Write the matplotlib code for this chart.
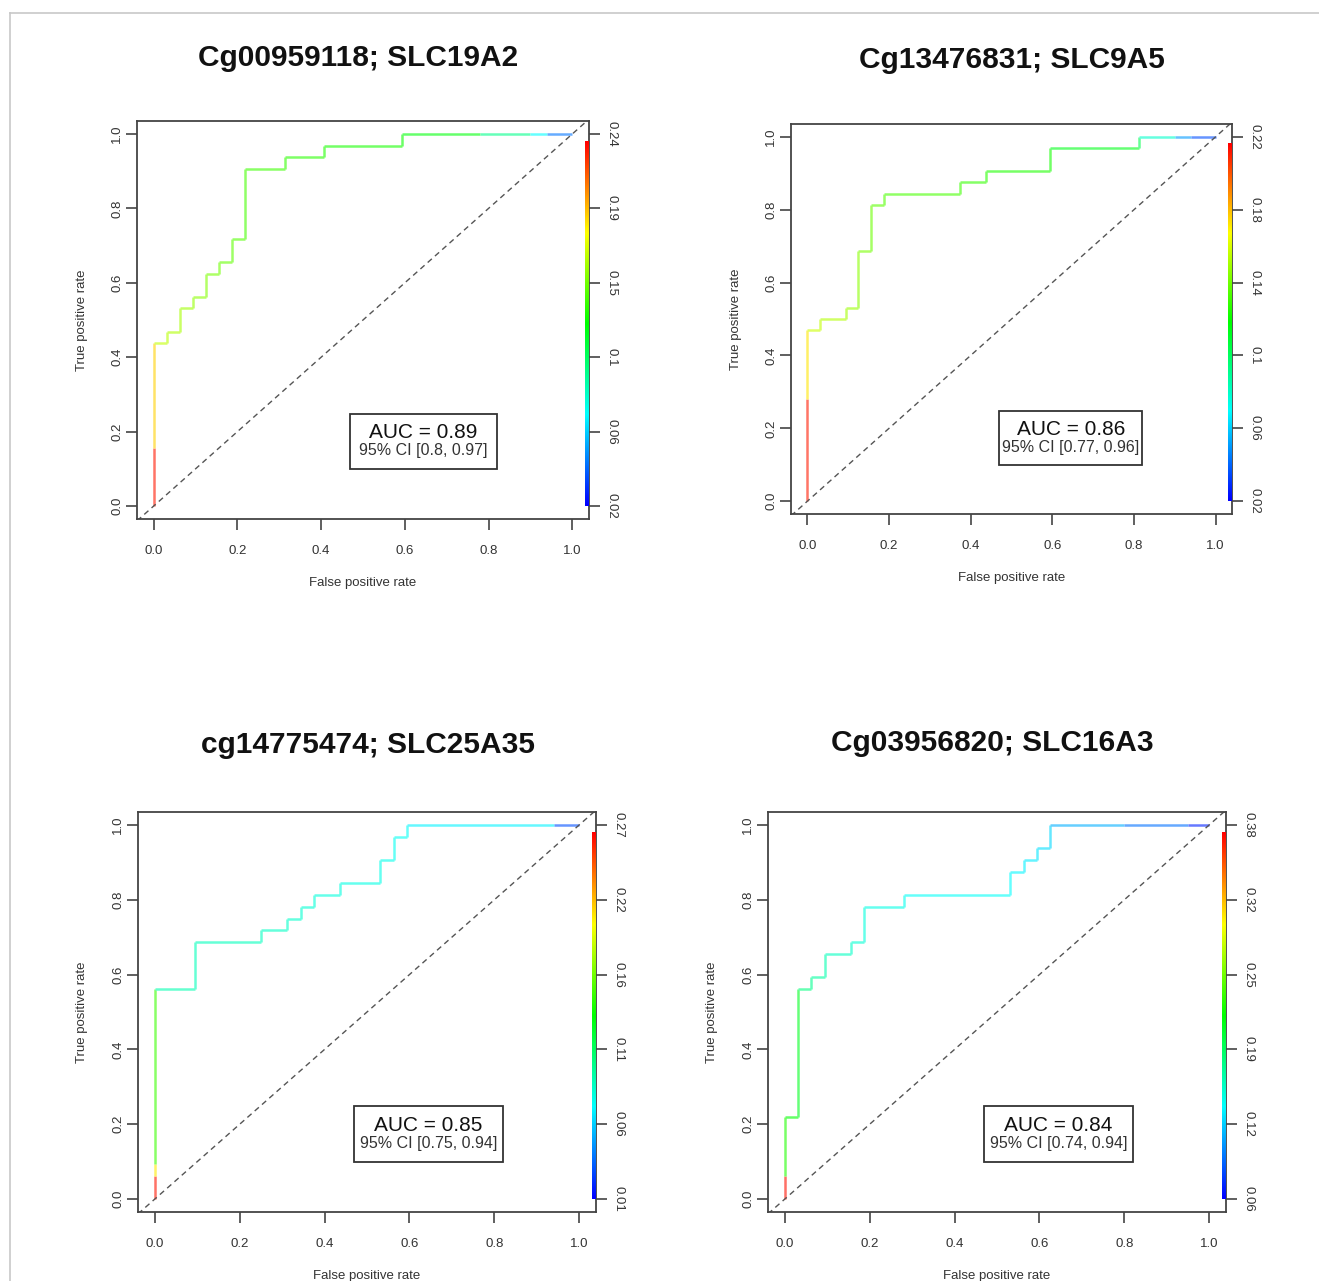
import numpy as np
import matplotlib
matplotlib.use("Agg")
import matplotlib.pyplot as plt
from matplotlib.collections import LineCollection
from matplotlib.colors import hsv_to_rgb
from matplotlib.lines import Line2D

titles = ["Cg00959118; SLC19A2", "Cg13476831; SLC9A5",
          "cg14775474; SLC25A35", "Cg03956820; SLC16A3"]
auc_text = ["AUC = 0.89", "AUC = 0.86", "AUC = 0.85", "AUC = 0.84"]
ci_text = ["95% CI [0.8, 0.97]", "95% CI [0.77, 0.96]",
           "95% CI [0.75, 0.94]", "95% CI [0.74, 0.94]"]

# ROC vertices (fpr, tpr) and a cutoff value for every segment between them
fpr1 = [0, 0, 0, 0.03125, 0.03125, 0.0625, 0.0625, 0.09375, 0.09375, 0.125, 0.125,
        0.15625, 0.15625, 0.1875, 0.1875, 0.21875, 0.21875, 0.3125, 0.3125, 0.40625,
        0.40625, 0.59375, 0.59375, 0.78, 0.9, 0.94, 1.0]
tpr1 = [0, 0.15625, 0.4375, 0.4375, 0.46875, 0.46875, 0.53125, 0.53125, 0.5625, 0.5625,
        0.625, 0.625, 0.65625, 0.65625, 0.71875, 0.71875, 0.90625, 0.90625, 0.9375, 0.9375,
        0.96875, 0.96875, 1, 1, 1, 1, 1]
cut1 = [0.235, 0.195, 0.172, 0.17, 0.168, 0.166, 0.164, 0.162, 0.16, 0.158, 0.156, 0.154,
        0.152, 0.15, 0.148, 0.145, 0.143, 0.141, 0.139, 0.137, 0.135, 0.132, 0.128, 0.10,
        0.075, 0.045]

fpr2 = [0, 0, 0, 0.03125, 0.03125, 0.09375, 0.09375, 0.125, 0.125, 0.15625, 0.15625,
        0.1875, 0.1875, 0.375, 0.375, 0.4375, 0.4375, 0.59375, 0.59375, 0.8125, 0.8125,
        0.9, 0.94, 1.0]
tpr2 = [0, 0.28125, 0.46875, 0.46875, 0.5, 0.5, 0.53125, 0.53125, 0.6875, 0.6875, 0.8125,
        0.8125, 0.84375, 0.84375, 0.875, 0.875, 0.90625, 0.90625, 0.96875, 0.96875, 1, 1,
        1, 1]
cut2 = [0.215, 0.175, 0.16, 0.158, 0.155, 0.152, 0.15, 0.147, 0.144, 0.141, 0.138, 0.136,
        0.134, 0.132, 0.13, 0.128, 0.126, 0.124, 0.115, 0.105, 0.08, 0.05, 0.035]

fpr3 = [0, 0, 0, 0, 0.09375, 0.09375, 0.25, 0.25, 0.3125, 0.3125, 0.34375, 0.34375,
        0.375, 0.375, 0.4375, 0.4375, 0.53125, 0.53125, 0.5625, 0.5625, 0.59375, 0.59375,
        0.94, 1.0]
tpr3 = [0, 0.0625, 0.09375, 0.5625, 0.5625, 0.6875, 0.6875, 0.71875, 0.71875, 0.75, 0.75,
        0.78125, 0.78125, 0.8125, 0.8125, 0.84375, 0.84375, 0.90625, 0.90625, 0.96875,
        0.96875, 1, 1, 1]
cut3 = [0.265, 0.21, 0.155, 0.095, 0.093, 0.092, 0.091, 0.09, 0.089, 0.088, 0.087, 0.086,
        0.085, 0.084, 0.083, 0.082, 0.081, 0.08, 0.079, 0.078, 0.077, 0.072, 0.03]

fpr4 = [0, 0, 0, 0.03125, 0.03125, 0.0625, 0.0625, 0.09375, 0.09375, 0.15625, 0.15625,
        0.1875, 0.1875, 0.28125, 0.28125, 0.53125, 0.53125, 0.5625, 0.5625, 0.59375,
        0.59375, 0.625, 0.625, 0.8, 0.95, 1.0]
tpr4 = [0, 0.0625, 0.21875, 0.21875, 0.5625, 0.5625, 0.59375, 0.59375, 0.65625, 0.65625,
        0.6875, 0.6875, 0.78125, 0.78125, 0.8125, 0.8125, 0.875, 0.875, 0.90625, 0.90625,
        0.9375, 0.9375, 1, 1, 1, 1]
cut4 = [0.375, 0.23, 0.22, 0.21, 0.18, 0.175, 0.17, 0.165, 0.16, 0.157, 0.154, 0.151,
        0.148, 0.145, 0.142, 0.14, 0.138, 0.136, 0.134, 0.132, 0.13, 0.128, 0.115, 0.095,
        0.07]

cut_range = [(0.02, 0.24), (0.02, 0.22), (0.01, 0.27), (0.06, 0.38)]
cut_labels = [["0.02", "0.06", "0.1", "0.15", "0.19", "0.24"],
              ["0.02", "0.06", "0.1", "0.14", "0.18", "0.22"],
              ["0.01", "0.06", "0.11", "0.16", "0.22", "0.27"],
              ["0.06", "0.12", "0.19", "0.25", "0.32", "0.38"]]

curves = [(fpr1, tpr1, cut1), (fpr2, tpr2, cut2), (fpr3, tpr3, cut3), (fpr4, tpr4, cut4)]

# axes boxes in pixels: left, top, right, bottom
boxes = [(137, 121, 589, 519), (791, 124, 1232, 514),
         (138, 812, 596, 1212), (768, 812, 1226, 1212)]
title_pos = [(358, 58), (1012, 60), (368, 745), (992, 743)]

W, H = 1319, 1281
fig = plt.figure(figsize=(W / 100, H / 100), dpi=100)
fig.patch.set_facecolor("white")
plt.rcParams['font.family'] = ['Liberation Sans', 'DejaVu Sans']

# screenshot frame
fig.add_artist(Line2D([10 / W, 1], [1 - 13 / H, 1 - 13 / H], color="#c8c8c8", lw=1.2))
fig.add_artist(Line2D([10 / W, 10 / W], [0, 1 - 13 / H], color="#c8c8c8", lw=1.2))


def cut_color(c, lo, hi, fade=0.0):
    t = np.clip((c - lo) / (hi - lo), 0, 1)
    rgb = hsv_to_rgb([(1 - t) * 4 / 6, 1, 1])
    return rgb * (1 - fade) + fade


axcol = "#444444"
for i in range(4):
    l, t, r, b = boxes[i]
    ax = fig.add_axes([l / W, 1 - b / H, (r - l) / W, (b - t) / H])
    for s in ax.spines.values():
        s.set_color(axcol)
        s.set_linewidth(1.3)

    fpr, tpr, cut = curves[i]
    lo, hi = cut_range[i]
    pts = np.column_stack([fpr, tpr])
    segs = np.stack([pts[:-1], pts[1:]], axis=1)
    cols = [cut_color(c, lo, hi, fade=0.4) for c in cut]
    ax.add_collection(LineCollection(segs, colors=cols, linewidths=1.8, capstyle="butt"))

    ax.plot([-0.04, 1.04], [-0.04, 1.04], color="#555555", lw=1, ls=(0, (4, 3)))

    # colour bar along the right axis
    vals = np.linspace(lo, hi, 200)
    img = np.array([cut_color(v, lo, hi) for v in vals])[:, None, :]
    ax.imshow(img, extent=[1.031, 1.041, 0, 0.98], origin="lower", aspect="auto",
              interpolation="bilinear", zorder=3)
    ax.set_xlim(-0.04, 1.04)
    ax.set_ylim(-0.035, 1.035)

    ticks = [0, 0.2, 0.4, 0.6, 0.8, 1.0]
    ax.set_xticks(ticks)
    ax.set_xticklabels(["0.0", "0.2", "0.4", "0.6", "0.8", "1.0"])
    ax.set_yticks(ticks)
    ax.set_yticklabels(["0.0", "0.2", "0.4", "0.6", "0.8", "1.0"], rotation=90, va="center")
    ax.tick_params(length=8, width=1.2, color=axcol, labelsize=9.5, labelcolor="#333333")
    ax.tick_params(axis="x", pad=11)
    ax.tick_params(axis="y", pad=2)
    ax.set_xlabel("False positive rate", fontsize=9.5, color="#333333", labelpad=14)
    ax.set_ylabel("True positive rate", fontsize=9.5, color="#333333", labelpad=17)

    ax2 = ax.twinx()
    ax2.set_ylim(ax.get_ylim())
    ax2.set_yticks(ticks)
    ax2.set_yticklabels(cut_labels[i], rotation=270, va="center")
    ax2.tick_params(length=8, width=1.2, color=axcol, labelsize=9.5, labelcolor="#333333", pad=4)
    for s in ax2.spines.values():
        s.set_visible(False)

    ax.text(0.645, 0.197, auc_text[i], fontsize=15, ha="center", va="center", color="#111111")
    ax.text(0.645, 0.148, ci_text[i], fontsize=11.5, ha="center", va="center", color="#333333")
    ax.add_patch(plt.Rectangle((0.47, 0.1), 0.35, 0.148, fill=False, ec="#333333", lw=1.3))

    tx, ty = title_pos[i]
    fig.text(tx / W, 1 - ty / H, titles[i], fontsize=21.5, fontweight="bold",
             ha="center", va="center", color="#111111")

fig.savefig("out.png", dpi=100)
